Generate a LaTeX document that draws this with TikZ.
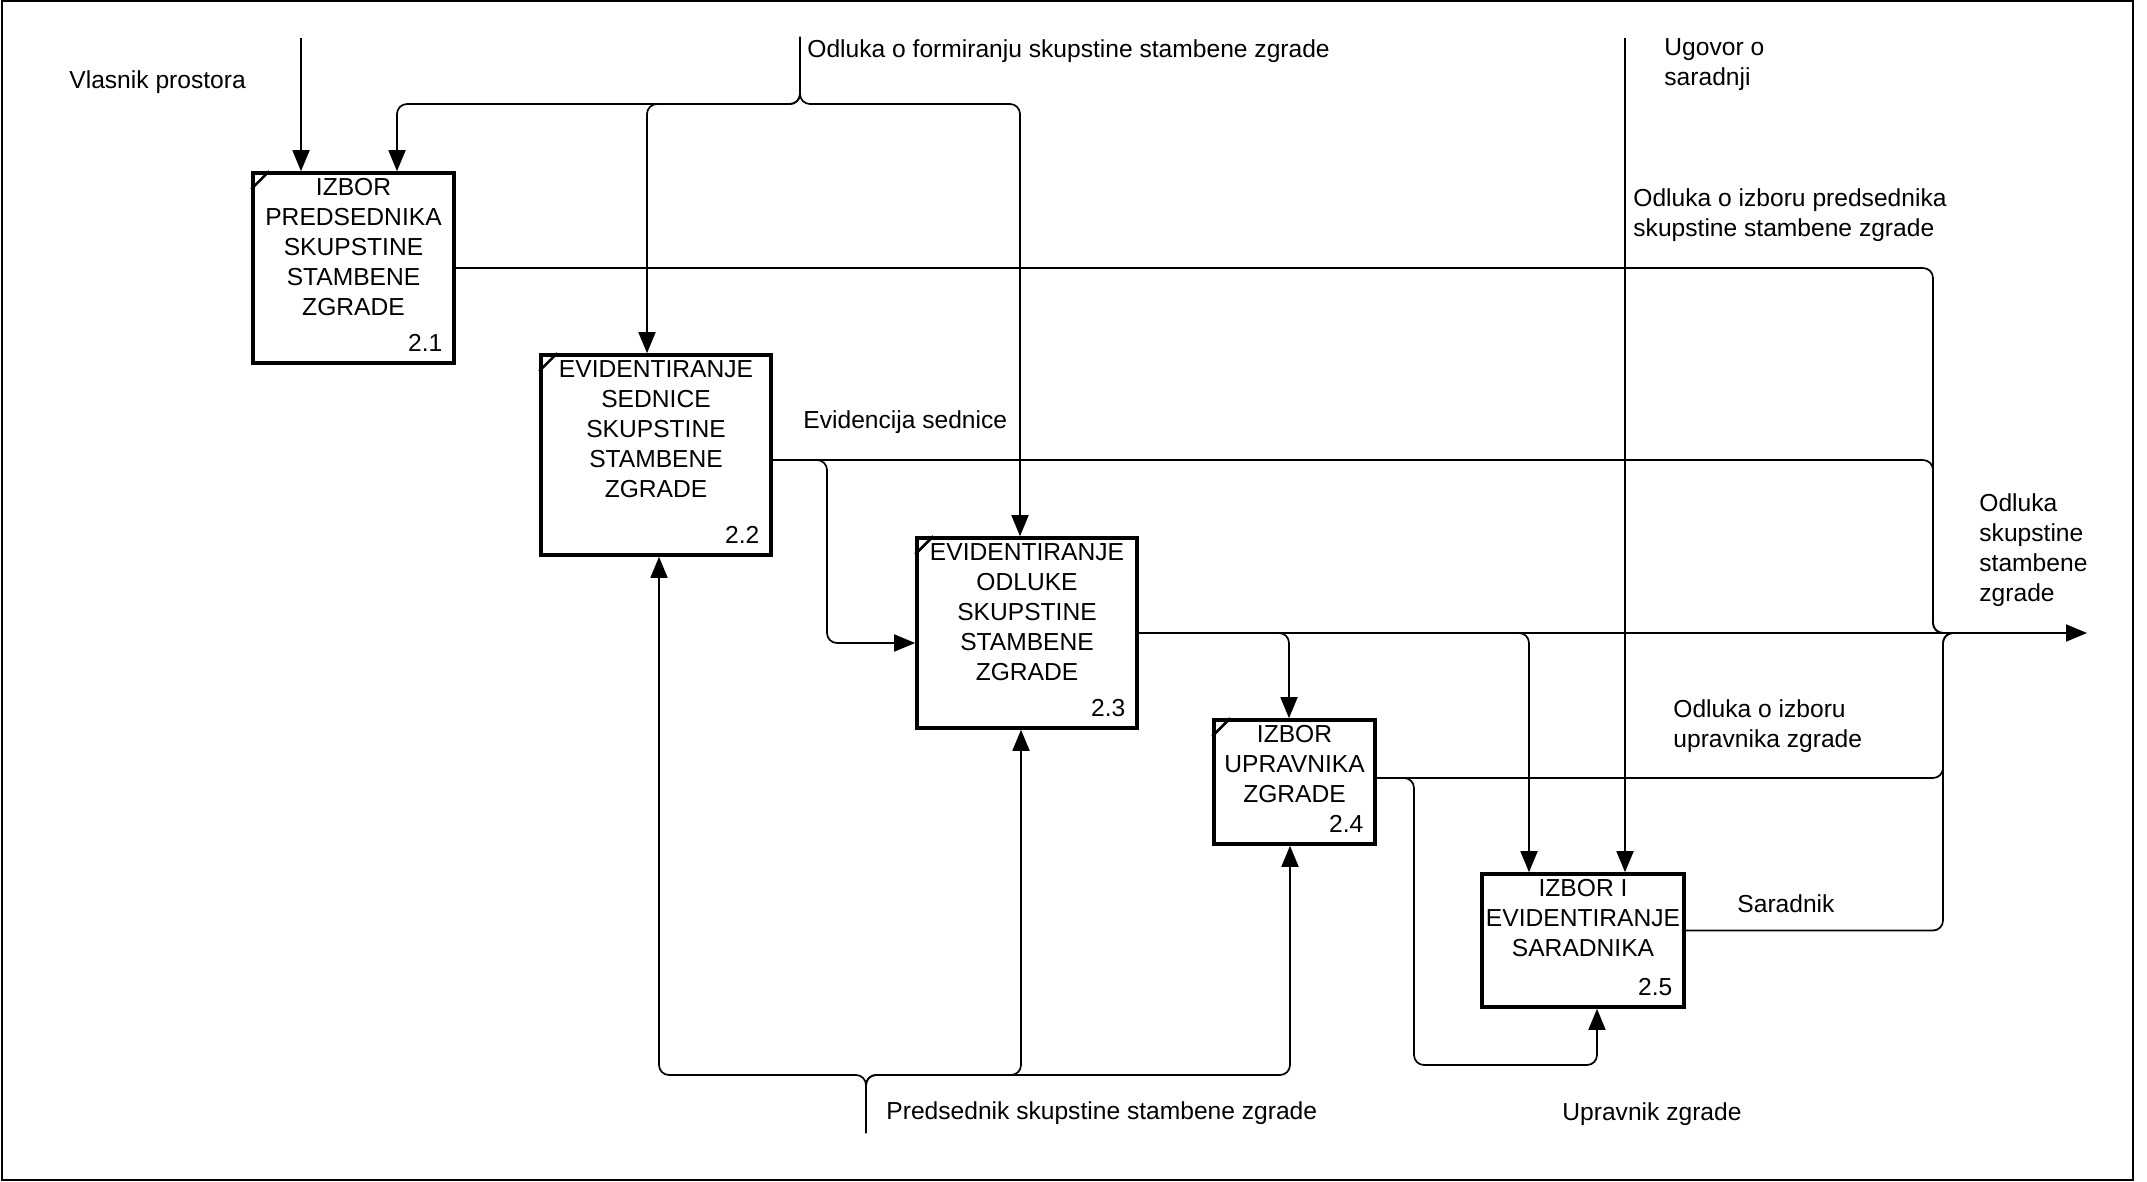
\documentclass[tikz,border=0pt]{standalone}
\usepackage{fontspec}
\setmainfont{Liberation Sans}
\usepackage{tikz}
\usetikzlibrary{arrows.meta,positioning}

\tikzset{
  proc/.style={draw, line width=1.8pt, inner sep=0pt},
  pname/.style={anchor=north, align=center, inner sep=0pt, yshift=-3.5pt},
  pnum/.style={anchor=base east, inner sep=0pt},
  lbl/.style={anchor=west, align=left, inner sep=0pt},
  flow/.style={line width=0.85pt, rounded corners=5pt, -{Triangle[length=10.5pt,width=8.5pt]}},
  feed/.style={line width=0.85pt, rounded corners=5pt},
  tick/.style={line width=1.3pt}
}

\begin{document}
\begin{tikzpicture}[x=0.5pt,y=-0.5pt,on grid,font=\fontsize{12.3}{15}\selectfont]
\useasboundingbox (0,0) rectangle (2147,1182);
\draw[line width=1pt] (2,1) rectangle (2133,1180);

% activities
\node[proc, minimum width=100.5pt, minimum height=95pt] (P_1) at (353.5,268) {};
\node[proc, minimum width=115pt, minimum height=100pt] (P_2) [below right=93.5pt and 151.25pt of P_1] {};
\node[proc, minimum width=110pt, minimum height=95pt] (P_3) [below right=89pt and 185.5pt of P_2] {};
\node[proc, minimum width=80.5pt, minimum height=62pt] (P_4) [below right=74.5pt and 133.75pt of P_3] {};
\node[proc, minimum width=101pt, minimum height=66.5pt] (P_5) [below right=79.25pt and 144.25pt of P_4] {};

\node[pname] (t_1) at (P_1.north) {IZBOR\\PREDSEDNIKA\\SKUPSTINE\\STAMBENE\\ZGRADE};
\node[pname] (t_2) at (P_2.north) {EVIDENTIRANJE\\SEDNICE\\SKUPSTINE\\STAMBENE\\ZGRADE};
\node[pname] (t_3) at (P_3.north) {EVIDENTIRANJE\\ODLUKE\\SKUPSTINE\\STAMBENE\\ZGRADE};
\node[pname] (t_4) at (P_4.north) {IZBOR\\UPRAVNIKA\\ZGRADE};
\node[pname] (t_5) at (P_5.north) {IZBOR I\\EVIDENTIRANJE\\SARADNIKA};

\node[pnum] (n_1) at ([xshift=-6.5pt,yshift=6.5pt]P_1.south east) {2.1};
\node[pnum] (n_2) at ([xshift=-6.5pt,yshift=6.5pt]P_2.south east) {2.2};
\node[pnum] (n_3) at ([xshift=-6.5pt,yshift=6.5pt]P_3.south east) {2.3};
\node[pnum] (n_4) at ([xshift=-6.5pt,yshift=6.5pt]P_4.south east) {2.4};
\node[pnum] (n_5) at ([xshift=-6.5pt,yshift=6.5pt]P_5.south east) {2.5};

\foreach \n in {P_1,P_2,P_3,P_4}
  \draw[tick] ([yshift=-9pt]\n.north west) -- ([xshift=9pt]\n.north west);

% free ends
\coordinate (vlasnik) at (301,38);
\coordinate (formiranje) at (800,37);
\coordinate (ugovor) at (1625,38);
\coordinate (predsednik) at (866,1133);
\coordinate (izlaz) at (2087,633);

% labels
\node[lbl] (l_1) at (69,82) {Vlasnik prostora};
\node[lbl] (l_2) at (807,51) {Odluka o formiranju skupstine stambene zgrade};
\node[lbl] (l_3) at (1664,65) {Ugovor o\\saradnji};
\node[lbl] (l_4) at (1633,215) {Odluka o izboru predsednika\\skupstine stambene zgrade};
\node[lbl] (l_5) at (803,422) {Evidencija sednice};
\node[lbl] (l_6) at (1979,550) {Odluka\\skupstine\\stambene\\zgrade};
\node[lbl] (l_7) at (1673,726) {Odluka o izboru\\upravnika zgrade};
\node[lbl] (l_8) at (1737,904) {Saradnik};
\node[lbl] (l_9) at (1562,1114) {Upravnik zgrade};
\node[lbl] (l_10) at (886,1113) {Predsednik skupstine stambene zgrade};

% inputs and controls
\draw[flow] (vlasnik) -- (vlasnik |- P_1.north);
\draw[flow] (formiranje) |- (397,104) -- (397,104 |- P_1.north);
\draw[flow] (formiranje) |- (647,104) -- (647,104 |- P_2.north);
\draw[flow] (formiranje) |- (1020,104) -- (1020,104 |- P_3.north);
\draw[flow] (ugovor) -- (ugovor |- P_5.north);

% outputs
\draw[feed] (P_1.east) -| (1933,633) -- (1960,633);
\draw[feed] ([yshift=-2.5pt]P_2.east) -| (1933,633) -- (1960,633);
\draw[flow] ([yshift=-2.5pt]P_2.east) -| (827,643) -- ([yshift=-5pt]P_3.west);
\draw[flow] (P_3.east) -- (izlaz);
\draw[flow] (P_3.east) -| (1289,633 |- P_4.north);
\draw[flow] (P_3.east) -| (1529,633 |- P_5.north);
\draw[feed] ([yshift=2pt]P_4.east) -| (1943,633) -- (1975,633);
\draw[flow] ([yshift=2pt]P_4.east) -| (1414,1065) -| (1597,1065 |- P_5.south);
\draw[feed] ([yshift=5pt]P_5.east) -| (1943,633) -- (1975,633);

% mechanism
\draw[flow] (predsednik) |- (659,1075) -- (659,1075 |- P_2.south);
\draw[flow] (predsednik) |- (1021,1075) -- (1021,1075 |- P_3.south);
\draw[flow] (predsednik) |- (1290,1075) -- (1290,1075 |- P_4.south);
\end{tikzpicture}
\end{document}
